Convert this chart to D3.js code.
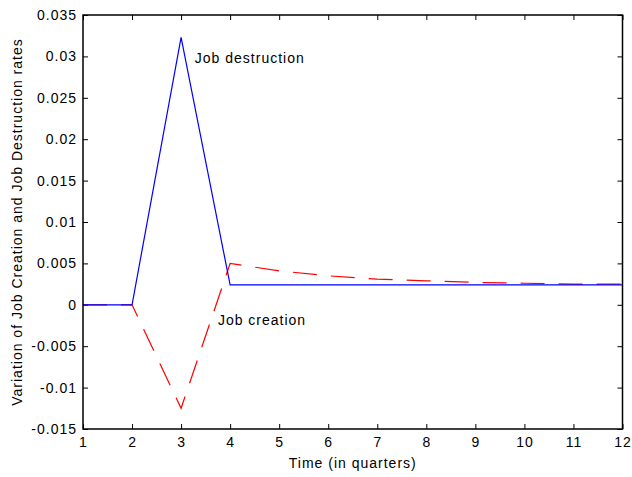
<!DOCTYPE html>
<html>
<head>
<meta charset="utf-8">
<style>
body { margin: 0; background: #fff; }
text { font-family: "Liberation Sans", Arial, sans-serif; fill: #000; letter-spacing: 1px; }
</style>
</head>
<body>
<svg width="632" height="477"></svg>
<script src="https://d3js.org/d3.v7.min.js"></script>
<script>
// quarters
var quarters = [1, 2, 3, 4, 5, 6, 7, 8, 9, 10, 11, 12]
// job destruction (blue solid)
var destruction = [0, 0, 0.0323, 0.0024, 0.0024, 0.0024, 0.0024, 0.0024, 0.0024, 0.0024, 0.0024, 0.0024]
// job creation (red dashed)
var creation = [0, 0, -0.0125, 0.0050, 0.0041, 0.0035, 0.0031, 0.0029, 0.0027, 0.0026, 0.0025, 0.0025]
var yTicks = [-0.015, -0.01, -0.005, 0, 0.005, 0.01, 0.015, 0.02, 0.025, 0.03, 0.035]
var yTickLabels = ['-0.015', '-0.01', '-0.005', '0', '0.005', '0.01', '0.015', '0.02', '0.025', '0.03', '0.035']

var margin = {left: 83, right: 9.5, top: 15, bottom: 48},
	width = 632,
	height = 477,
	fontSize = '14px'

var svg = d3.select('svg')

var x = d3.scaleLinear().domain([1, 12]).range([margin.left, width - margin.right])
var y = d3.scaleLinear().domain([-0.015, 0.035]).range([height - margin.bottom, margin.top])

var tickLen = 5

// bottom axis (ticks point inward)
svg.append('g')
	.attr('transform', 'translate(0,' + y(-0.015) + ')')
	.call(d3.axisBottom(x).tickValues(quarters).tickSizeInner(-tickLen).tickSizeOuter(0).tickPadding(8))
	.call(g => g.select('.domain').remove())
	.selectAll('text').style('font-size', fontSize)

// top ticks
svg.append('g')
	.attr('transform', 'translate(0,' + y(0.035) + ')')
	.call(d3.axisTop(x).tickValues(quarters).tickSizeInner(-tickLen).tickSizeOuter(0).tickFormat(''))
	.call(g => g.select('.domain').remove())

// left axis
svg.append('g')
	.attr('transform', 'translate(' + x(1) + ',0)')
	.call(d3.axisLeft(y).tickValues(yTicks).tickSizeInner(-tickLen).tickSizeOuter(0).tickPadding(6)
		.tickFormat(function(d, i) { return yTickLabels[i] }))
	.call(g => g.select('.domain').remove())
	.selectAll('text').style('font-size', fontSize)

// right ticks
svg.append('g')
	.attr('transform', 'translate(' + x(12) + ',0)')
	.call(d3.axisRight(y).tickValues(yTicks).tickSizeInner(-tickLen).tickSizeOuter(0).tickFormat(''))
	.call(g => g.select('.domain').remove())

svg.selectAll('.tick line').attr('stroke', '#000')

var line = d3.line()
	.x(function(d, i) { return x(quarters[i]) })
	.y(function(d) { return y(d) })

svg.append('path')
	.datum(creation)
	.attr('d', line)
	.attr('fill', 'none')
	.attr('stroke', '#ff0000')
	.attr('stroke-width', 1.2)
	.attr('stroke-dasharray', '24,14')

svg.append('path')
	.datum(destruction)
	.attr('d', line)
	.attr('fill', 'none')
	.attr('stroke', '#0000ff')
	.attr('stroke-width', 1.2)

// frame
svg.append('rect')
	.attr('x', x(1))
	.attr('y', y(0.035))
	.attr('width', x(12) - x(1))
	.attr('height', y(-0.015) - y(0.035))
	.attr('fill', 'none')
	.attr('stroke', '#000')
	.attr('stroke-width', 1.5)

// annotations
svg.append('text').attr('x', x(3.28)).attr('y', y(0.0292)).style('font-size', fontSize).text('Job destruction')
svg.append('text').attr('x', x(3.75)).attr('y', y(-0.0024)).style('font-size', fontSize).text('Job creation')

// axis labels
svg.append('text')
	.attr('x', (x(1) + x(12)) / 2)
	.attr('y', 468)
	.attr('text-anchor', 'middle')
	.style('font-size', fontSize)
	.text('Time (in quarters)')

svg.append('text')
	.attr('transform', 'translate(22,' + (y(-0.015) + y(0.035)) / 2 + ') rotate(-90)')
	.attr('text-anchor', 'middle')
	.style('font-size', fontSize)
	.text('Variation of Job Creation and Job Destruction rates')
</script>
</body>
</html>
